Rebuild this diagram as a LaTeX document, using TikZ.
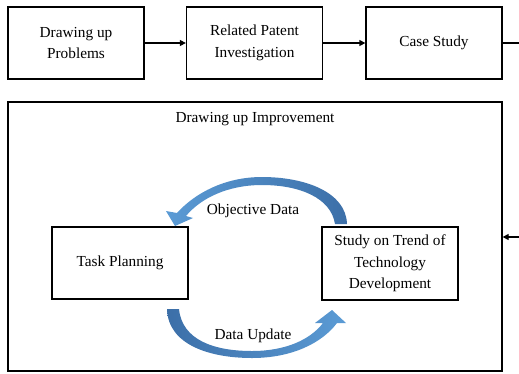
\documentclass[tikz,border=0pt]{standalone}
\usepackage{fontspec}
\setmainfont{Liberation Serif}
\usetikzlibrary{arrows.meta}
\definecolor{arrowdark}{HTML}{3C6FA8}
\definecolor{arrowlight}{HTML}{5B9BD5}
\tikzset{
  stepbox/.style={draw, line width=1.3pt, minimum width=136pt, minimum height=72pt,
    inner sep=0pt, align=center, font=\fontsize{15.3}{21.5}\selectfont},
  label text/.style={inner sep=0pt, font=\fontsize{15.3}{21.5}\selectfont},
  flow/.style={line width=1.3pt, -{Triangle[length=6pt,width=6pt]}},
}
\begin{document}
\begin{tikzpicture}[x=1pt, y=-1pt]
\useasboundingbox (0,0) rectangle (519,373);

% top row of stages
\node[stepbox] (prob) at (76,43) {Drawing up\\Problems};
\node[stepbox] (patent) at (254.5,43) {Related Patent\\Investigation};
\node[stepbox] (case) at (434,43) {Case Study};
\coordinate (outR) at (519,43);

% improvement frame
\node[draw, line width=1.3pt, minimum width=494pt, minimum height=269pt, inner sep=0pt]
  (improve) at (255,236.5) {};
\node[label text] (improveTitle) at (255,119) {Drawing up Improvement};
\coordinate (inR) at (519,237);

\node[stepbox] (task) at (120,263) {Task Planning};
\node[stepbox, minimum height=73pt] (trend) at (390,263.5)
  {Study on Trend of\\Technology\\Development};

% connectors
\draw[flow] (prob.east) -- (patent.west);
\draw[flow] (patent.east) -- (case.west);
\draw[line width=1.3pt] (case.east) -- (outR);
\draw[flow] (inR) -- (improve.east |- inR);

% curved block arrow: trend -> task
\shade[left color=arrowlight, right color=arrowdark]
  (347,224) .. controls (346,192) and (305,177) .. (262,177)
  .. controls (225,177) and (195,193) .. (177,213)
  -- (166,211) -- (175,226) -- (193,218) -- (186,216)
  .. controls (201,198) and (228,185) .. (262,185)
  .. controls (300,185) and (331,198) .. (335,224) -- cycle;

% curved block arrow: task -> trend
\shade[left color=arrowdark, right color=arrowlight]
  (167,309) .. controls (168,345) and (210,358) .. (252,358)
  .. controls (292,358) and (322,343) .. (337,323)
  -- (346,323) -- (332,310) -- (315,323) -- (323,323)
  .. controls (310,340) and (285,351) .. (252,351)
  .. controls (214,351) and (182,340) .. (179,309) -- cycle;

\node[label text] (objData) at (253,211) {Objective Data};
\node[label text] (dataUpd) at (253,336) {Data Update};
\end{tikzpicture}
\end{document}
